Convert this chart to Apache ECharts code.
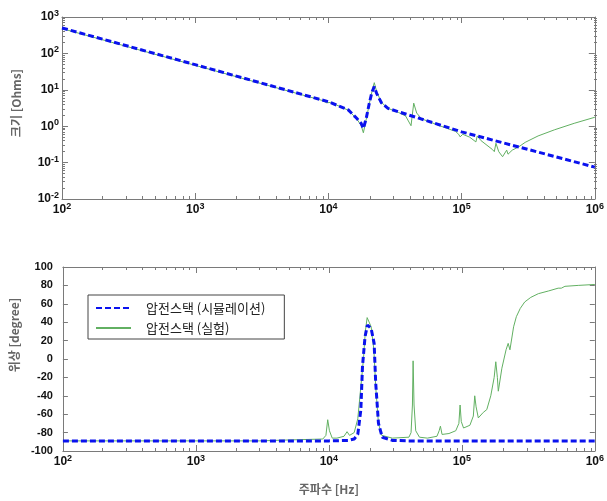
<!DOCTYPE html>
<html><head><meta charset="utf-8">
<script src="https://cdn.jsdelivr.net/npm/echarts@6/dist/echarts.min.js"></script>
<style>html,body{margin:0;padding:0;background:#fff}#c{width:607px;height:501px}</style>
</head><body><div id="c"></div>
<script>
// ---------- data ----------
const seriesNames = ['압전스택 (시뮬레이션)', '압전스택 (실험)'];
const xTickLabels = [1e2, 1e3, 1e4, 1e5, 1e6];
const magTickLabels = [1e-2, 1e-1, 1e0, 1e1, 1e2, 1e3];
const phaseTickLabels = [-100, -80, -60, -40, -20, 0, 20, 40, 60, 80, 100];

// magnitude, simulation
const magSimFreq = [100, 1000, 10000, 14100, 16300, 17600, 18300, 19200, 20200, 21200, 22100, 23000, 25000, 28000, 33500, 100000, 1000000];
const magSimVal  = [500, 49, 4.7, 2.8, 1.65, 1.2, 0.87, 1.6, 4, 8.5, 12.2, 8, 4.4, 3.1, 2.5, 0.7, 0.075];
// magnitude, experiment
const magExpFreq = [100, 1000, 9000, 9700, 10000, 10400, 14100, 16300, 17600, 18300, 19200, 20500, 21500, 22100, 23000, 25000, 28000, 33500, 38000, 41700, 43700, 46000, 50000, 70000, 90000, 95000, 97500, 102000, 115000, 128000, 131000, 140000, 170000, 176000, 181000, 190000, 203000, 218000, 223000, 240000, 268000, 300000, 375000, 500000, 700000, 1000000];
const magExpVal  = [480, 47, 5.1, 4.4, 4.2, 4.5, 2.75, 1.6, 1.05, 0.66, 1.5, 5, 11, 15.7, 9, 4.5, 3.1, 2.4, 1.9, 1.03, 4.3, 2.3, 1.6, 1.0, 0.72, 0.6, 0.51, 0.6, 0.5, 0.37, 0.54, 0.4, 0.23, 0.2, 0.34, 0.2, 0.145, 0.22, 0.17, 0.22, 0.27, 0.36, 0.54, 0.8, 1.2, 1.76];

// phase, simulation
const phSimFreq = [100, 10000, 14000, 15500, 16500, 17400, 17900, 18700, 19500, 20100, 20800, 21900, 22500, 23600, 25200, 30000, 40000, 1000000];
const phSimVal  = [-89, -89, -88.5, -87, -82, -55, -8, 24, 37, 39, 33, 17, -26, -70, -85, -88.5, -89, -89];
// phase, experiment
const phExpFreq = [100, 3000, 5000, 9000, 9500, 9800, 10100, 10600, 11500, 13000, 13700, 14300, 15500, 16500, 17400, 18200, 18800, 19400, 20000, 20800, 21800, 22500, 23600, 25000, 30000, 40000, 41500, 42500, 43000, 43700, 45000, 48000, 55000, 65000, 67500, 69000, 71000, 80000, 90000, 95000, 97000, 99000, 103000, 115000, 122000, 125000, 128000, 133000, 145000, 154000, 165000, 175000, 180000, 185000, 188000, 200000, 215000, 223000, 230000, 245000, 257000, 275000, 297000, 330000, 376000, 450000, 530000, 545000, 560000, 596000, 750000, 1000000];
const phExpVal  = [-89, -89, -88, -87, -83, -66, -78, -86, -86, -84, -79, -83, -80, -65, -30, 0, 30, 45, 44, 35, 10, -30, -70, -83, -86, -85, -80, -50, -2, -50, -78, -85, -86, -84, -78, -73, -82, -81, -78, -70, -50, -68, -75, -72, -62, -40, -52, -64, -58, -55, -40, -20, -3, -20, -35, -10, 10, 17, 10, 35, 46, 55, 62, 67, 71, 74, 77, 75, 77, 79, 80, 81];

// ---------- helpers ----------
function zip(a, b) { return a.map((v, i) => [v, b[i]]); }
function minorLog(lo, hi) {
  const out = [];
  for (let e = lo; e < hi; e++) for (let m = 2; m <= 9; m++) out.push(m * Math.pow(10, e));
  return out;
}
const xMinor = minorLog(2, 6);
const magMinor = minorLog(-2, 3);

const FONT = "'Liberation Sans', Arial, sans-serif";
const AX = '#7a7a7a';
const LBL = '#111';
const rich = {
  b: { fontSize: 12, fontWeight: 'bold', fontFamily: FONT, color: LBL, lineHeight: 16 },
  s: { fontSize: 9, fontWeight: 'bold', fontFamily: FONT, color: LBL, verticalAlign: 'top', lineHeight: 16, padding: [0, 0, 7, 0] }
};
function logLabel(v) {
  const e = Math.round(Math.log10(v));
  return '{b|10}{s|' + e + '}';
}
const G0 = { left: 62, top: 17, width: 535, height: 182 };
const G1 = { left: 62, top: 267, width: 535, height: 184 };

function frameAxis(base, pos, tickVals, len, showLine, label) {
  return Object.assign({}, base, {
    position: pos,
    axisLine: { show: showLine, onZero: false, lineStyle: { color: AX, width: 1 } },
    axisTick: { show: true, inside: true, length: len, customValues: tickVals, lineStyle: { color: AX } },
    axisLabel: label ? label : { show: false },
    splitLine: { show: false },
    minorTick: { show: false }
  });
}

const xLogBase = (g) => ({ gridIndex: g, type: 'log', logBase: 10, min: 100, max: 1e6 });
const xLabel = (margin) => ({ show: true, customValues: xTickLabels, formatter: logLabel, rich: rich, margin: margin });

const xAxes = [
  frameAxis(xLogBase(0), 'bottom', xTickLabels, 6, true, xLabel(3)),   // 0
  frameAxis(xLogBase(0), 'top', xTickLabels, 6, true, null),           // 1
  frameAxis(xLogBase(1), 'bottom', xTickLabels, 6, true, xLabel(3)),   // 2
  frameAxis(xLogBase(1), 'top', xTickLabels, 6, true, null),           // 3
  frameAxis(xLogBase(2), 'bottom', xMinor, 3, false, null),            // 4 overlay minor
  frameAxis(xLogBase(2), 'top', xMinor, 3, false, null),
  frameAxis(xLogBase(3), 'bottom', xMinor, 3, false, null),
  frameAxis(xLogBase(3), 'top', xMinor, 3, false, null)
];

const yMagBase = (g) => ({ gridIndex: g, type: 'log', logBase: 10, min: 0.01, max: 1000 });
const yPhBase = (g) => ({ gridIndex: g, type: 'value', min: -100, max: 100, interval: 20 });

const yAxes = [
  Object.assign(frameAxis(yMagBase(0), 'left', magTickLabels, 6, true,
    { show: true, customValues: magTickLabels, formatter: logLabel, rich: rich, margin: 3 }), {
    name: '크기 [Ohms]', nameLocation: 'middle', nameGap: 40,
    nameTextStyle: { fontFamily: "'Noto Sans CJK KR'", fontSize: 12, fontWeight: 'bold', color: '#666', padding: [0, 0, 0, 10] }
  }),                                                                  // 0
  frameAxis(yMagBase(0), 'right', magTickLabels, 6, true, null),       // 1
  Object.assign(frameAxis(yPhBase(1), 'left', phaseTickLabels, 5, true,
    { show: true, customValues: phaseTickLabels, margin: 10, fontSize: 11, fontWeight: 'bold',
      fontFamily: "'Liberation Sans Narrow', " + FONT, color: LBL }), {
    name: '위상 [degree]', nameLocation: 'middle', nameGap: 40,
    nameTextStyle: { fontFamily: "'Noto Sans CJK KR'", fontSize: 12, fontWeight: 'bold', color: '#666', padding: [0, 0, 0, 48] }
  }),                                                                  // 2
  frameAxis(yPhBase(1), 'right', phaseTickLabels, 5, true, null),      // 3
  frameAxis(yMagBase(2), 'left', magMinor, 3, false, null),            // 4 overlay minor
  frameAxis(yMagBase(2), 'right', magMinor, 3, false, null),           // 5
  { gridIndex: 3, type: 'value', min: -100, max: 100, show: false }    // 6 overlay (hidden)
];
// x axis name on bottom chart
Object.assign(xAxes[2], {
  name: '주파수 [Hz]', nameLocation: 'middle', nameGap: 32,
  nameTextStyle: { fontFamily: "'Noto Sans CJK KR'", fontSize: 12, fontWeight: 'bold', color: '#666' }
});

const BLUE = '#0a12ee';
const GREEN = '#62b062';
const simStyle = { color: BLUE, width: 3, type: [6, 3] };
const expStyle = { color: GREEN, width: 1 };

const option = {
  animation: false,
  backgroundColor: '#fff',
  grid: [G0, G1, G0, G1].map(g => Object.assign({ containLabel: false }, g)),
  xAxis: xAxes,
  yAxis: yAxes,
  legend: {
    data: seriesNames,
    orient: 'vertical',
    left: 88, top: 295,
    itemWidth: 35, itemHeight: 12, itemGap: 6,
    padding: [6, 19, 4, 7],
    borderColor: '#444', borderWidth: 1, borderRadius: 0,
    backgroundColor: '#fff',
    itemStyle: { color: 'transparent', borderWidth: 0, opacity: 0 },
    lineStyle: { opacity: 1 },
    textStyle: { fontFamily: "'Noto Sans CJK KR'", fontSize: 13, lineHeight: 14, color: '#222', padding: [0, 0, 0, 10] }
  },
  series: [
    { name: seriesNames[1], type: 'line', xAxisIndex: 0, yAxisIndex: 0, data: zip(magExpFreq, magExpVal),
      showSymbol: false, symbol: 'none', lineStyle: expStyle, itemStyle: { color: GREEN }, z: 2 },
    { name: seriesNames[0], type: 'line', xAxisIndex: 0, yAxisIndex: 0, data: zip(magSimFreq, magSimVal),
      showSymbol: false, symbol: 'none', lineStyle: simStyle, itemStyle: { color: BLUE }, z: 3 },
    { name: seriesNames[1], type: 'line', xAxisIndex: 2, yAxisIndex: 2, data: zip(phExpFreq, phExpVal),
      showSymbol: false, symbol: 'none', lineStyle: expStyle, itemStyle: { color: GREEN }, z: 2 },
    { name: seriesNames[0], type: 'line', xAxisIndex: 2, yAxisIndex: 2, data: zip(phSimFreq, phSimVal),
      showSymbol: false, symbol: 'none', lineStyle: simStyle, itemStyle: { color: BLUE }, z: 3 }
  ]
};
const chart = echarts.init(document.getElementById('c'), null, { renderer: 'canvas' });
chart.setOption(option);
</script>
</body></html>
